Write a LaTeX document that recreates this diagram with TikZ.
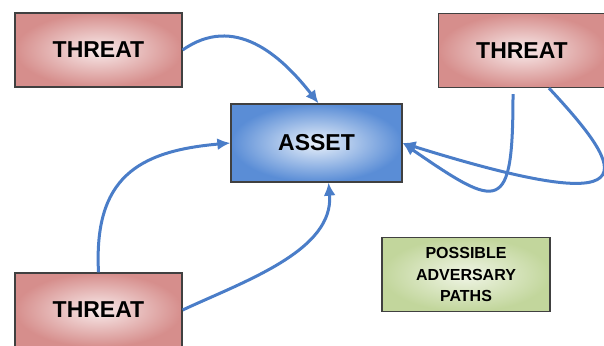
\documentclass[tikz,border=0pt]{standalone}
\usepackage{fontspec}
\setmainfont{Liberation Sans}
\usetikzlibrary{arrows.meta,positioning}
\definecolor{threatred}{HTML}{D68E8C}
\definecolor{threatpale}{HTML}{F8EAEA}
\definecolor{assetblue}{HTML}{5A8DD6}
\definecolor{assetpale}{HTML}{E8F0FA}
\definecolor{notegreen}{HTML}{C2D69C}
\definecolor{notepale}{HTML}{F0F5E6}
\definecolor{pathblue}{HTML}{4A7DC8}
\tikzset{
	box/.style={draw=black!75, line width=1.3pt, inner sep=0pt,
		font=\fontsize{23}{27}\selectfont\bfseries},
	threat/.style={box, minimum width=167pt, minimum height=74pt,
		inner color=threatpale, outer color=threatred},
	asset/.style={box, minimum width=171pt, minimum height=78pt,
		inner color=assetpale, outer color=assetblue},
	note/.style={box, minimum width=168pt, minimum height=74pt, align=center,
		inner color=notepale, outer color=notegreen,
		font=\fontsize{16}{21.5}\selectfont\bfseries},
	attack/.style={-{Latex[length=13pt,width=12pt]}, line width=3pt, draw=pathblue},
}

\begin{document}
\begin{tikzpicture}[x=1pt, y=1pt]
	\useasboundingbox (0,0) rectangle (604,345);

	\node[asset] (asset) at (316.5,202) {ASSET};
	\node[threat] (t1) at (98.5,295) {THREAT};
	\node[threat] (t2) at (522,294.5) {THREAT};
	\node[threat] (t3) at (98.5,35) {THREAT};
	\node[note] (paths) at (466,70.5) {POSSIBLE\\ADVERSARY\\PATHS};

	% paths into the asset
	\draw[attack] (t1.east) to[out=35, in=128, looseness=1.1] ([xshift=2pt]asset.north);
	\draw[attack] (t3.north) to[out=93, in=185, looseness=1.3] (asset.west);
	\draw[attack] (t3.east) to[out=25, in=-85, looseness=0.9] ([xshift=12pt]asset.south);
	\draw[attack] ([xshift=-9pt,yshift=-6pt]t2.south) .. controls (513,130) and (500,135) .. (asset.east);
	\draw[attack] ([xshift=27pt]t2.south) .. controls (630,170) and (650,125) .. (asset.east);
\end{tikzpicture}
\end{document}
